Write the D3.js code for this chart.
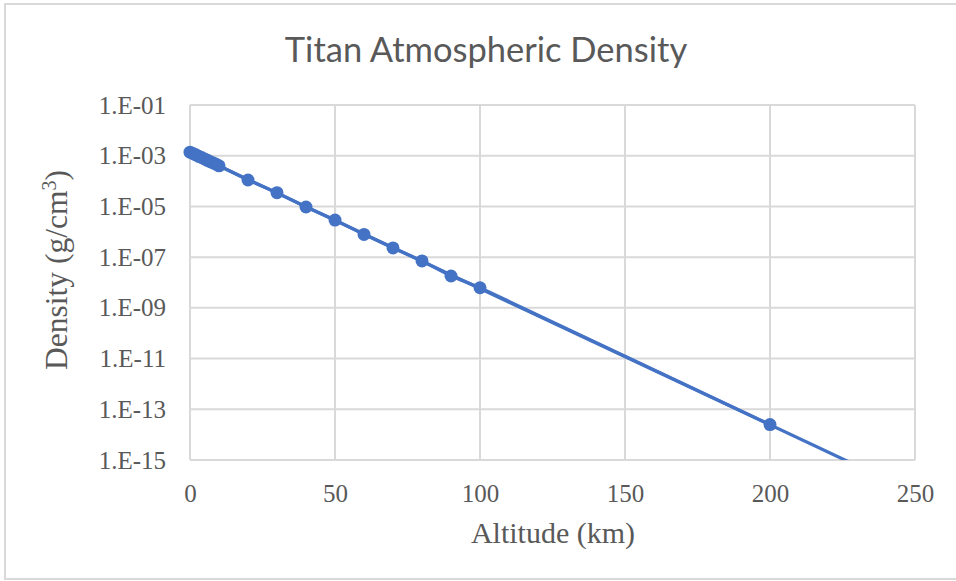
<!DOCTYPE html>
<html>
<head>
<meta charset="utf-8">
<script src="https://cdn.jsdelivr.net/npm/d3@7"></script>
<style>
  html, body { margin: 0; padding: 0; background: #fff; }
  svg { display: block; }
</style>
</head>
<body>
<svg id="chart" width="956" height="581"></svg>
<script>
// Altitude (km) and density (g/cm^3) samples for Titan's lower atmosphere
const altitudes = [0, 1, 2, 3, 4, 5, 6, 7, 8, 9, 10, 20, 30, 40, 50, 60, 70, 80, 90, 100, 200];
const densities = [1.38e-3, 1.22e-3, 1.08e-3, 9.5e-4, 8.5e-4, 7.5e-4, 6.6e-4, 5.8e-4, 5.2e-4, 4.6e-4, 4.0e-4,
                   1.1e-4, 3.5e-5, 9.5e-6, 2.9e-6, 7.9e-7, 2.3e-7, 7.1e-8, 1.8e-8, 6.2e-9, 2.5e-14];
const xTicks = [0, 50, 100, 150, 200, 250];
const yTicks = [1e-1, 1e-3, 1e-5, 1e-7, 1e-9, 1e-11, 1e-13, 1e-15];

const svg = d3.select("#chart");
const W = 956, H = 581;
const plot = { left: 190, right: 915, top: 105, bottom: 460 };
const blue = "#4472C4";
const textGray = "#595959";
const gridGray = "#d9d9d9";
const serif = "'Liberation Serif', 'Times New Roman', serif";

// chart frame
svg.append("rect")
  .attr("x", 5).attr("y", 4).attr("width", W + 10).attr("height", 575)
  .attr("fill", "#fff").attr("stroke", gridGray).attr("stroke-width", 2);

const x = d3.scaleLinear().domain([0, 250]).range([plot.left, plot.right]);
const y = d3.scaleLog().domain([1e-15, 1e-1]).range([plot.bottom, plot.top]);

// gridlines
svg.append("g").selectAll("line.v").data(xTicks).join("line")
  .attr("x1", d => x(d)).attr("x2", d => x(d))
  .attr("y1", plot.top).attr("y2", plot.bottom)
  .attr("stroke", gridGray).attr("stroke-width", 2);
svg.append("g").selectAll("line.h").data(yTicks).join("line")
  .attr("x1", plot.left).attr("x2", plot.right)
  .attr("y1", d => y(d)).attr("y2", d => y(d))
  .attr("stroke", gridGray).attr("stroke-width", 2);

// axis tick labels
const fmt = d => "1.E-" + String(Math.round(-Math.log10(d))).padStart(2, "0");
const yAxis = d3.axisLeft(y).tickValues(yTicks).tickFormat(fmt).tickSize(0).tickPadding(24);
const gy = svg.append("g").attr("transform", `translate(${plot.left},0)`).call(yAxis);
gy.select(".domain").remove();
gy.selectAll("text")
  .attr("font-family", serif).attr("font-size", 25).attr("fill", textGray);

const xAxis = d3.axisBottom(x).tickValues(xTicks).tickFormat(d3.format("d")).tickSize(0).tickPadding(24);
const gx = svg.append("g").attr("transform", `translate(0,${plot.bottom})`).call(xAxis);
gx.select(".domain").remove();
gx.selectAll("text")
  .attr("font-family", serif).attr("font-size", 25).attr("fill", textGray);

// exponential least-squares fit of the samples, drawn across the full altitude range
const ly = densities.map(v => Math.log10(v));
const mx = d3.mean(altitudes), my = d3.mean(ly);
const slope = d3.sum(altitudes, (a, i) => (a - mx) * (ly[i] - my)) / d3.sum(altitudes, a => (a - mx) ** 2);
const intercept = my - slope * mx;
const fitPts = x.domain().map(a => [a, Math.pow(10, intercept + slope * a)]);

svg.append("clipPath").attr("id", "plotClip")
  .append("rect").attr("x", plot.left).attr("y", plot.top)
  .attr("width", plot.right - plot.left).attr("height", plot.bottom - plot.top);

const data = altitudes.map((a, i) => [a, densities[i]]);
const line = d3.line().x(d => x(d[0])).y(d => y(d[1]));

const g = svg.append("g").attr("clip-path", "url(#plotClip)");
g.append("path").datum(fitPts).attr("d", line)
  .attr("fill", "none").attr("stroke", blue).attr("stroke-width", 3.25);
g.append("path").datum(data).attr("d", line)
  .attr("fill", "none").attr("stroke", blue).attr("stroke-width", 3.25);

svg.append("g").selectAll("circle").data(data).join("circle")
  .attr("cx", d => x(d[0])).attr("cy", d => y(d[1])).attr("r", 6.5)
  .attr("fill", blue);

// titles
svg.append("text").attr("x", 486).attr("y", 62).attr("text-anchor", "middle")
  .attr("font-family", "Lato, 'Open Sans', sans-serif").attr("font-size", 34.5)
  .attr("fill", textGray).text("Titan Atmospheric Density");

svg.append("text").attr("x", 553).attr("y", 543).attr("text-anchor", "middle")
  .attr("font-family", serif).attr("font-size", 30)
  .attr("fill", textGray).text("Altitude (km)");

const yt = svg.append("text")
  .attr("transform", "translate(67,270) rotate(-90)").attr("text-anchor", "middle")
  .attr("font-family", serif).attr("font-size", 31.5)
  .attr("fill", textGray);
yt.append("tspan").text("Density (g/cm");
yt.append("tspan").attr("font-size", 20).attr("dy", -11).text("3");
yt.append("tspan").attr("dy", 11).text(")");
</script>
</body>
</html>
